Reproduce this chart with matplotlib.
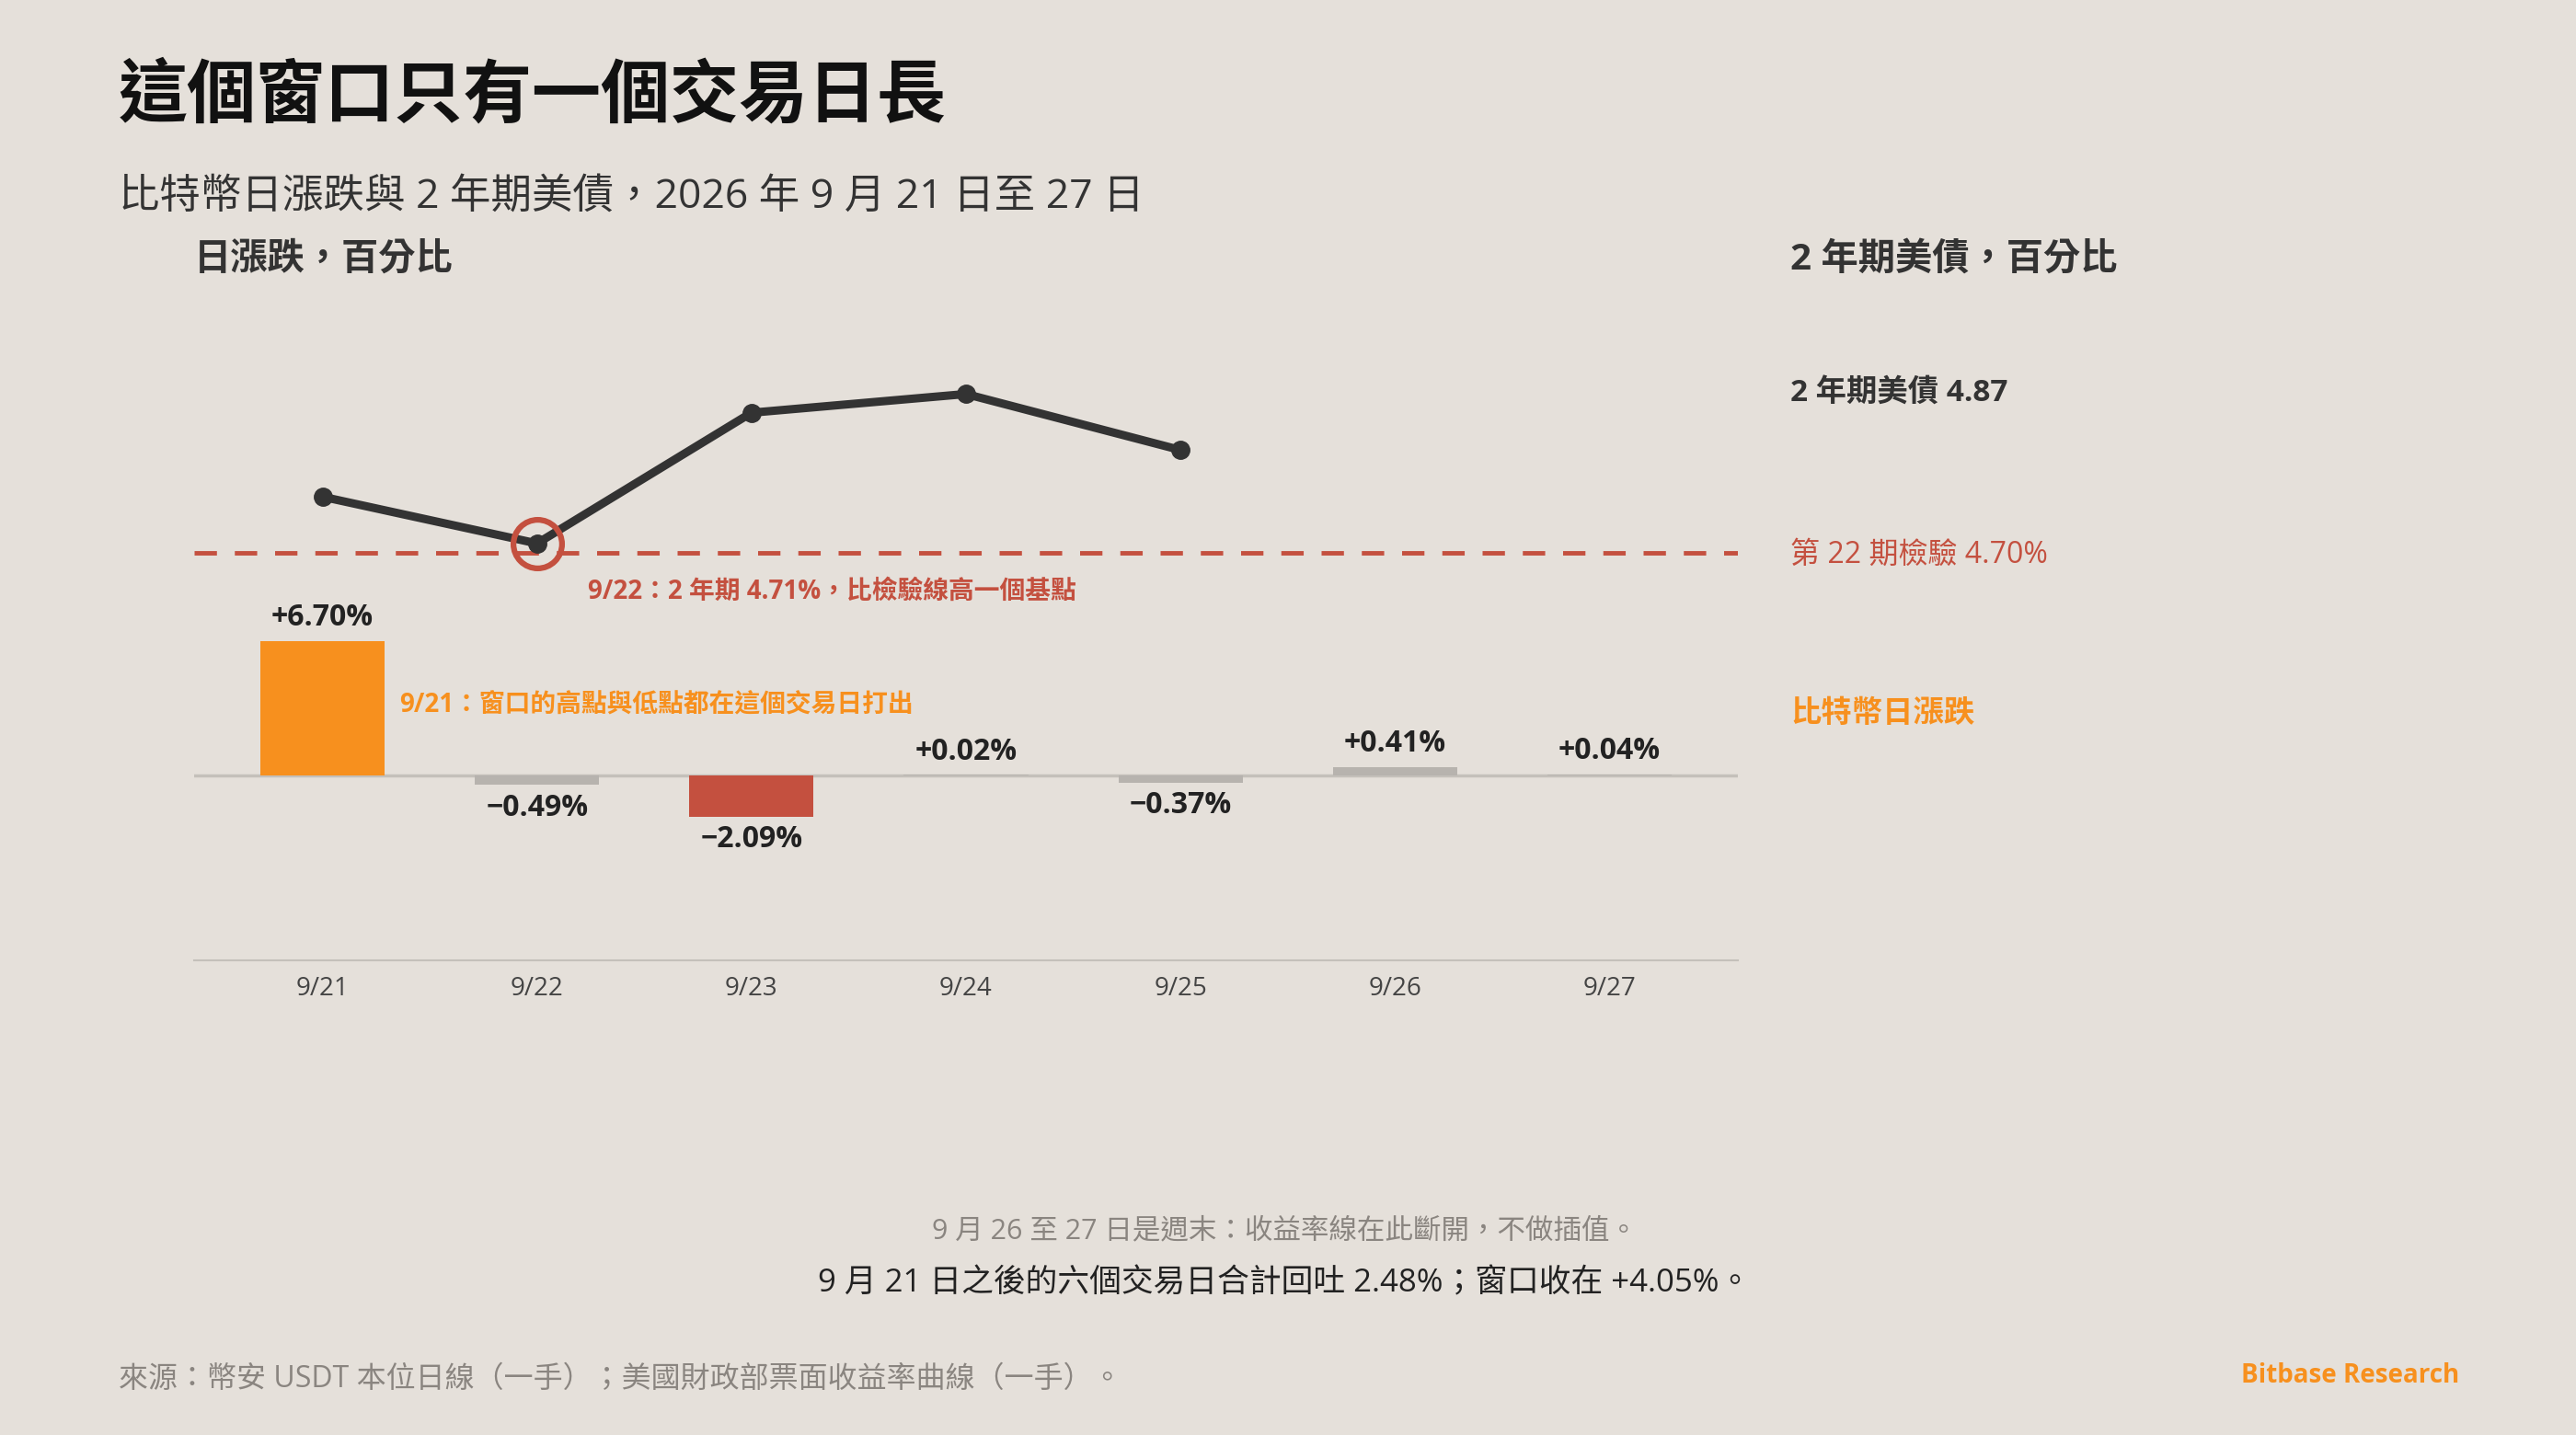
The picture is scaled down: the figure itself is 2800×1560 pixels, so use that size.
import numpy as np
import matplotlib
matplotlib.use("Agg")
from matplotlib import pyplot as plt

plt.rcParams['font.family'] = ['Open Sans', 'Noto Sans CJK TC', 'DejaVu Sans']

## Data ##
days = ['9/21', '9/22', '9/23', '9/24', '9/25', '9/26', '9/27']
btc_change = [6.70, -0.49, -2.09, 0.02, -0.37, 0.41, 0.04]
btc_labels = ['+6.70%', '−0.49%', '−2.09%', '+0.02%', '−0.37%', '+0.41%', '+0.04%']
yield_days = [0, 1, 2, 3, 4]
yield_2y = [4.76, 4.71, 4.85, 4.87, 4.81]
test_line = 4.70

BG = '#E5E0DA'
ORANGE = '#F7901E'
RED = '#C4503F'
GREY = '#B7B3AE'
DARK = '#333333'

W, H = 1568, 874  # layout grid of the reference
def fx(x): return x / W
def fy(y): return 1 - y / H

fig = plt.figure(figsize=(28, 15.6), dpi=100, facecolor=BG)
ax = fig.add_axes([fx(118), fy(585), fx(1058) - fx(118), (585 - 200) / H])
ax.set_facecolor('none')
x = np.arange(len(days))

colors = [GREY] * len(days)
colors[0] = ORANGE
colors[2] = RED
ax.bar(x, btc_change, width=0.58, color=colors, zorder=2)
ax.axhline(0, color='#C4C0BA', lw=2.5, zorder=1)
ax.set_xlim(-0.6, 6.6)
ax.set_ylim(-9.26, 22.3)
for xi, v, lab in zip(x, btc_change, btc_labels):
    if v >= 0:
        ax.annotate(lab, (xi, max(v, 0)), xytext=(0, 6), textcoords='offset points',
                    ha='center', va='bottom', fontsize=23, fontweight='bold', color='#222222')
    else:
        ax.annotate(lab, (xi, v), xytext=(0, -6), textcoords='offset points',
                    ha='center', va='top', fontsize=23, fontweight='bold', color='#222222')
ax.set_xticks(x)
ax.set_xticklabels(days, fontsize=20, color='#444444')
ax.tick_params(axis='x', length=0, pad=12)
ax.set_yticks([])
for s in ['top', 'right', 'left']:
    ax.spines[s].set_visible(False)
ax.spines['bottom'].set_color('#C4C0BA')
ax.spines['bottom'].set_linewidth(1.5)

ax2 = ax.twinx()
ax2.set_ylim(4.2634, 4.9403)
ax2.set_yticks([])
for s in ax2.spines.values():
    s.set_visible(False)
ax2.axhline(test_line, color=RED, lw=3.5, dashes=(5, 4), zorder=1)
ax2.plot(yield_days, yield_2y, color=DARK, lw=6.5, marker='o', ms=14, zorder=3)
ax2.plot([1], [yield_2y[1]], marker='o', ms=38, mfc='none', mec=RED, mew=4.5, zorder=4)

ax2.annotate('9/22：2 年期 4.71%，比檢驗線高一個基點', (1, yield_2y[1]), xytext=(40, -38),
             textcoords='offset points', fontsize=20, fontweight='bold', color=RED, va='center')
ax.annotate('9/21：窗口的高點與低點都在這個交易日打出', (0, btc_change[0]), xytext=(60, -50),
            textcoords='offset points', fontsize=20, fontweight='bold', color=ORANGE, va='center')

## Texts ##
fig.text(fx(72), fy(60), '這個窗口只有一個交易日長', fontsize=54, fontweight='bold', color='#111111', va='center')
fig.text(fx(72), fy(120), '比特幣日漲跌與 2 年期美債，2026 年 9 月 21 日至 27 日', fontsize=32, color='#333333', va='center')
fig.text(fx(118), fy(158), '日漲跌，百分比', fontsize=29, fontweight='bold', color='#333333', va='center')
fig.text(fx(1090), fy(158), '2 年期美債，百分比', fontsize=29, fontweight='bold', color='#333333', va='center')
fig.text(fx(1090), fy(240), '2 年期美債 4.87', fontsize=24, fontweight='bold', color='#333333', va='center')
fig.text(fx(1090), fy(338), '第 22 期檢驗 4.70%', fontsize=23, color=RED, va='center')
fig.text(fx(1090), fy(435), '比特幣日漲跌', fontsize=24, fontweight='bold', color=ORANGE, va='center')
fig.text(fx(782), fy(750), '9 月 26 至 27 日是週末：收益率線在此斷開，不做插值。', fontsize=22, color='#8A8580', ha='center', va='center')
fig.text(fx(782), fy(782), '9 月 21 日之後的六個交易日合計回吐 2.48%；窗口收在 +4.05%。', fontsize=25, color='#222222', ha='center', va='center')
fig.text(fx(72), fy(840), '來源：幣安 USDT 本位日線（一手）；美國財政部票面收益率曲線（一手）。', fontsize=23, color='#8A8580', va='center')
fig.text(fx(1497), fy(838), 'Bitbase Research', fontsize=20, fontweight='bold', color=ORANGE, ha='right', va='center')

fig.savefig('out.png', dpi=100, facecolor=BG)
